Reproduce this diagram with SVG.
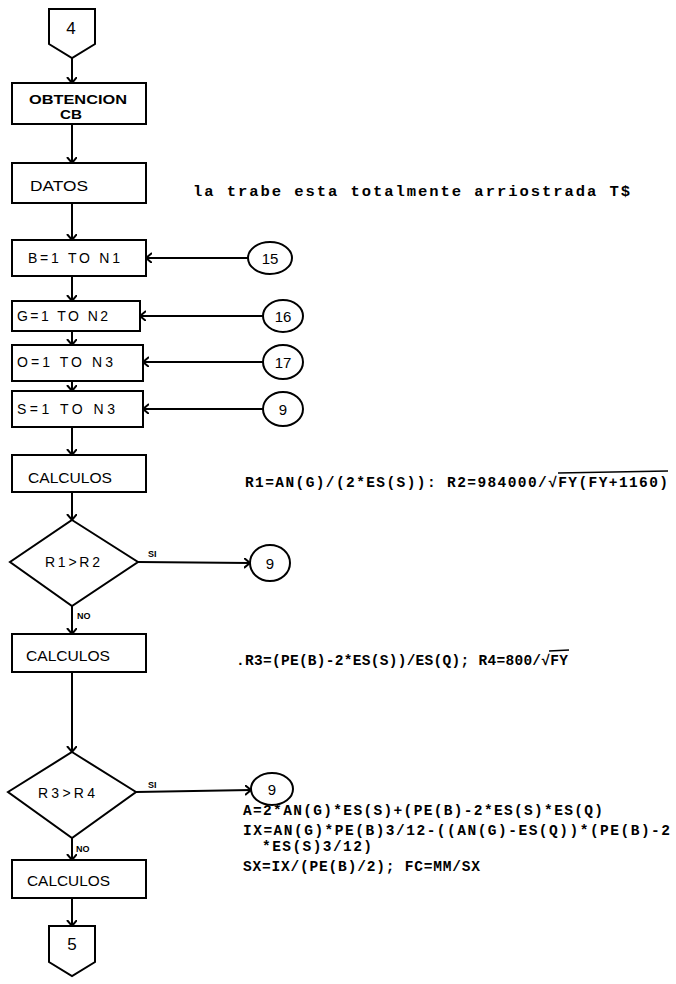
<svg xmlns="http://www.w3.org/2000/svg" width="676" height="984" viewBox="0 0 676 984">
<defs>
<marker id="arr" markerUnits="userSpaceOnUse" markerWidth="12" markerHeight="12" refX="6" refY="5" orient="auto">
<path d="M0,0 L6,5 L0,10" fill="none" stroke="#000" stroke-width="2"/>
</marker>
<style>
.n{fill:#fff;stroke:#000;stroke-width:2}
.c{fill:none;stroke:#000;stroke-width:2}
.l{font-family:"Liberation Sans",Arial,sans-serif;font-size:14px;fill:#000}
.m{text-anchor:middle}
.f{font-family:"Liberation Mono","Courier New",monospace;font-size:14.5px;font-weight:bold;fill:#000}
.s{font-family:"Liberation Sans",Arial,sans-serif;font-size:9px;font-weight:bold;fill:#000}
</style>
</defs>
<rect width="676" height="984" fill="#fff"/>
<g id="connectors">
<line class="c" x1="72" y1="58" x2="72" y2="83" marker-end="url(#arr)"/>
<line class="c" x1="72" y1="124" x2="72" y2="163" marker-end="url(#arr)"/>
<line class="c" x1="72" y1="203" x2="72" y2="240" marker-end="url(#arr)"/>
<line class="c" x1="72" y1="276" x2="72" y2="301" marker-end="url(#arr)"/>
<line class="c" x1="72" y1="331" x2="72" y2="345" marker-end="url(#arr)"/>
<line class="c" x1="72" y1="381" x2="72" y2="391" marker-end="url(#arr)"/>
<line class="c" x1="72" y1="427" x2="72" y2="455" marker-end="url(#arr)"/>
<line class="c" x1="72" y1="492" x2="72" y2="520" marker-end="url(#arr)"/>
<line class="c" x1="72" y1="606" x2="72" y2="634" marker-end="url(#arr)"/>
<line class="c" x1="72" y1="672" x2="72" y2="752" marker-end="url(#arr)"/>
<line class="c" x1="72" y1="838" x2="72" y2="860" marker-end="url(#arr)"/>
<line class="c" x1="72" y1="898" x2="72" y2="926" marker-end="url(#arr)"/>
<line class="c" x1="248" y1="258" x2="146" y2="258" marker-end="url(#arr)"/>
<line class="c" x1="263" y1="316" x2="140" y2="316" marker-end="url(#arr)"/>
<line class="c" x1="263" y1="362" x2="143" y2="362" marker-end="url(#arr)"/>
<line class="c" x1="263" y1="409" x2="143" y2="409" marker-end="url(#arr)"/>
<line class="c" x1="138" y1="562" x2="250" y2="563" marker-end="url(#arr)"/>
<line class="c" x1="136" y1="792" x2="251" y2="790" marker-end="url(#arr)"/>
<text class="s" x="148" y="557">SI</text>
<text class="s" x="77" y="619">NO</text>
<text class="s" x="148" y="788">SI</text>
<text class="s" x="76" y="852">NO</text>
</g>
<g id="n4"><path class="n" d="M49,9 L95,9 L95,44 L72,58 L49,44 Z"/><text class="l m" x="71" y="34" style="font-size:17px">4</text></g>
<g id="nObt"><rect class="n" x="12" y="83" width="134" height="41"/><text class="l" x="29" y="104" textLength="98" lengthAdjust="spacingAndGlyphs" style="font-size:12px;font-weight:bold">OBTENCION</text><text class="l" x="60" y="119" textLength="22" lengthAdjust="spacingAndGlyphs" style="font-size:12px;font-weight:bold">CB</text></g>
<g id="nDatos"><rect class="n" x="12" y="163" width="134" height="40"/><text class="l" x="30" y="191" textLength="58" lengthAdjust="spacingAndGlyphs">DATOS</text></g>
<g id="nB"><rect class="n" x="12" y="240" width="134" height="36"/><text class="l" x="28" y="263" textLength="92" lengthAdjust="spacing">B=1 TO N1</text></g>
<g id="nG"><rect class="n" x="12" y="301" width="128" height="30"/><text class="l" x="17" y="321" textLength="91" lengthAdjust="spacing">G=1 TO N2</text></g>
<g id="nO"><rect class="n" x="12" y="345" width="131" height="36"/><text class="l" x="17" y="367" textLength="96" lengthAdjust="spacing">O=1 TO N3</text></g>
<g id="nS"><rect class="n" x="12" y="391" width="131" height="36"/><text class="l" x="17" y="414" textLength="98" lengthAdjust="spacing">S=1 TO N3</text></g>
<g id="nCalc1"><rect class="n" x="12" y="455" width="134" height="37"/><text class="l" x="28" y="483" textLength="84" lengthAdjust="spacingAndGlyphs">CALCULOS</text></g>
<g id="nD1"><path class="n" d="M72,520 L138,562 L72,606 L10,562 Z"/><text class="l" x="45" y="567" textLength="55" lengthAdjust="spacing">R1&gt;R2</text></g>
<g id="nCalc2"><rect class="n" x="12" y="634" width="134" height="38"/><text class="l" x="26" y="661" textLength="84" lengthAdjust="spacingAndGlyphs">CALCULOS</text></g>
<g id="nD2"><path class="n" d="M72,752 L136,792 L72,838 L8,792 Z"/><text class="l" x="38" y="798" textLength="57" lengthAdjust="spacing">R3&gt;R4</text></g>
<g id="nCalc3"><rect class="n" x="12" y="860" width="134" height="38"/><text class="l" x="27" y="886" textLength="83" lengthAdjust="spacingAndGlyphs">CALCULOS</text></g>
<g id="n5"><path class="n" d="M49,926 L95,926 L95,962 L72,976 L49,962 Z"/><text class="l m" x="72" y="950" style="font-size:17px">5</text></g>
<g id="c15"><ellipse class="n" cx="270" cy="258" rx="22" ry="16"/><text class="l m" x="270" y="264" style="font-size:15px">15</text></g>
<g id="c16"><ellipse class="n" cx="283" cy="316" rx="20" ry="16"/><text class="l m" x="283" y="322" style="font-size:15px">16</text></g>
<g id="c17"><ellipse class="n" cx="283" cy="362" rx="20" ry="17"/><text class="l m" x="283" y="368" style="font-size:15px">17</text></g>
<g id="c9a"><ellipse class="n" cx="283" cy="409" rx="20" ry="17"/><text class="l m" x="283" y="415" style="font-size:15px">9</text></g>
<g id="c9b"><ellipse class="n" cx="270" cy="563" rx="20" ry="18"/><text class="l m" x="270" y="569" style="font-size:15px">9</text></g>
<g id="c9c"><ellipse class="n" cx="272" cy="789" rx="21" ry="16"/><text class="l m" x="272" y="795" style="font-size:15px">9</text></g>
<g id="notes">
<text class="f" x="193" y="196" textLength="437" lengthAdjust="spacing" style="font-size:15.5px">la trabe esta totalmente arriostrada T$</text>
<text class="f" x="245" y="487" textLength="423" lengthAdjust="spacing">R1=AN(G)/(2*ES(S)): R2=984000/√FY(FY+1160)</text>
<line x1="558" y1="473" x2="668" y2="471" stroke="#000" stroke-width="1.5"/>
<text class="f" x="236" y="665">.</text>
<text class="f" x="245" y="665" textLength="323" lengthAdjust="spacing">R3=(PE(B)-2*ES(S))/ES(Q); R4=800/√FY</text>
<line x1="549" y1="651" x2="569" y2="650" stroke="#000" stroke-width="1.5"/>
<text class="f" x="243" y="815" textLength="360" lengthAdjust="spacing">A=2*AN(G)*ES(S)+(PE(B)-2*ES(S)*ES(Q)</text>
<text class="f" x="243" y="835" textLength="427" lengthAdjust="spacing">IX=AN(G)*PE(B)3/12-((AN(G)-ES(Q))*(PE(B)-2</text>
<text class="f" x="262" y="851" textLength="110" lengthAdjust="spacing">*ES(S)3/12)</text>
<text class="f" x="243" y="871" textLength="237" lengthAdjust="spacing">SX=IX/(PE(B)/2); FC=MM/SX</text>
</g>
</svg>
